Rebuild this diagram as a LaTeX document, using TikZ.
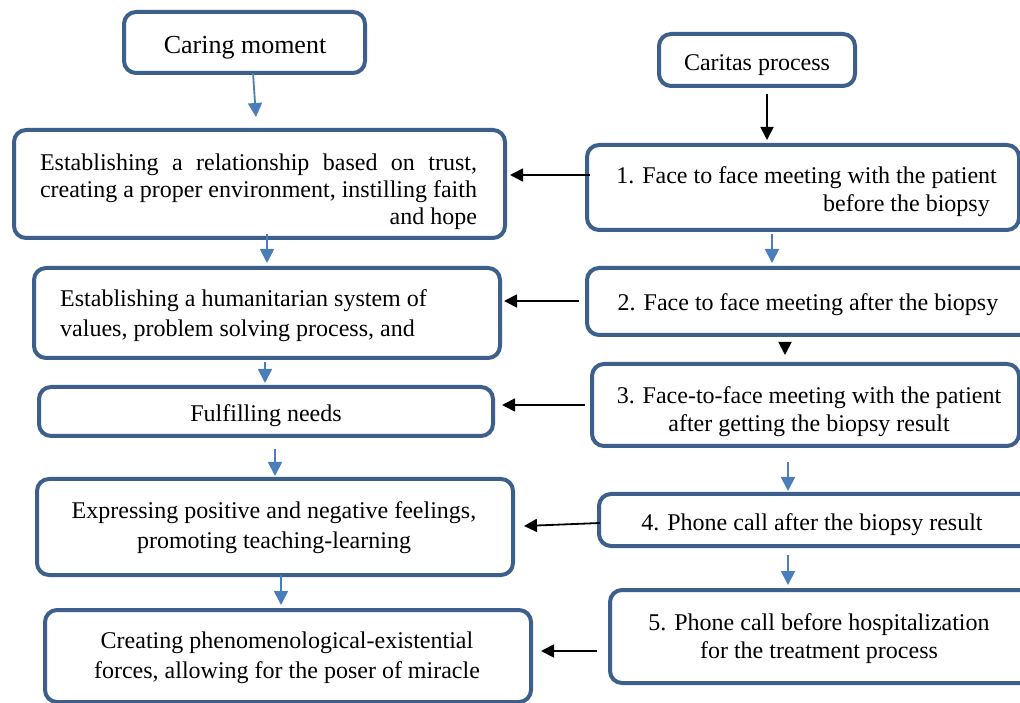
\documentclass[tikz,border=0pt]{standalone}
\usepackage{fontspec}
\setmainfont{Liberation Serif}
\usetikzlibrary{arrows.meta}
\definecolor{boxc}{RGB}{60,95,140}
\definecolor{arrb}{RGB}{74,126,187}
\tikzset{
  box/.style={draw=boxc, line width=4pt, rounded corners=12pt, inner sep=0pt, fill=white},
  txt/.style={font=\fontsize{24}{28}\selectfont, inner sep=0pt, align=center},
  barr/.style={draw=arrb, line width=1.8pt, -{Triangle[length=14pt,width=14pt]}},
  karr/.style={draw=black, line width=1.8pt, -{Triangle[length=13pt,width=13pt]}},
}
\begin{document}
\begin{tikzpicture}[x=1pt,y=1pt]
\useasboundingbox (0,0) rectangle (1020,702);
\clip (0,0) rectangle (1020,702);
% left column boxes
\node[box, minimum width=241pt, minimum height=61pt] (CM) at (244.5,659.5) {};
\node[box, minimum width=491pt, minimum height=108pt] (L1) at (259.5,518) {};
\node[box, minimum width=466pt, minimum height=90pt] (L2) at (267,389) {};
\node[box, minimum width=454pt, minimum height=49pt] (L3) at (266,290.5) {};
\node[box, minimum width=476pt, minimum height=96pt] (L4) at (275,175) {};
\node[box, minimum width=486pt, minimum height=92pt] (L5) at (288,46) {};
% right column boxes
\node[box, minimum width=196pt, minimum height=52pt] (CP) at (757,642) {};
\node[box, minimum width=432pt, minimum height=85pt] (R1) at (803,514.5) {};
\node[box, minimum width=451pt, minimum height=67pt] (R2) at (812.5,400.5) {};
\node[box, minimum width=427pt, minimum height=82pt] (R3) at (805.5,297) {};
\node[box, minimum width=439pt, minimum height=52pt] (R4) at (818.5,182) {};
\node[box, minimum width=428pt, minimum height=93pt] (R5) at (824,65.5) {};
% texts
\node[txt, font=\fontsize{26}{30}\selectfont] (tCM) at (245,654) {Caring moment};
\node[txt, align=left, font=\fontsize{24}{27}\selectfont] (tL1) at (258.5,510.5)
  {\makebox[437pt][s]{Establishing a relationship based on trust,}\\
   \makebox[437pt][s]{creating a proper environment, instilling faith}\\
   \makebox[437pt][r]{and hope}};
\node[txt, align=left, anchor=west, font=\fontsize{24}{30}\selectfont] (tL2) at (60,386)
  {Establishing a humanitarian system of\\values, problem solving process, and};
\node[txt] (tL3) at (266,286) {Fulfilling needs};
\node[txt, font=\fontsize{24}{30}\selectfont] (tL4) at (274,174)
  {Expressing positive and negative feelings,\\promoting teaching-learning};
\node[txt, font=\fontsize{24}{30}\selectfont] (tL5) at (287,44)
  {Creating phenomenological-existential\\forces, allowing for the poser of miracle};
\node[txt] (tCP) at (757,637) {Caritas process};
\node[txt, align=right, anchor=east] (tR1) at (997,510)
  {1. Face to face meeting with the patient\\before the biopsy\hspace*{7pt}};
\node[txt] (tR2) at (808,397) {2. Face to face meeting after the biopsy};
\node[txt] (tR3) at (809,290)
  {3. Face-to-face meeting with the patient\\after getting the biopsy result};
\node[txt] (tR4) at (812,177) {4. Phone call after the biopsy result};
\node[txt] (tR5) at (819,63)
  {5. Phone call before hospitalization\\for the treatment process};
% vertical connectors
\draw[barr] ([xshift=8.5pt,yshift=2pt]CM.south) -- ([xshift=-3.5pt,yshift=11pt]L1.north);
\draw[barr] ([xshift=7.5pt,yshift=6pt]L1.south) -- ([yshift=3pt]L2.north);
\draw[barr] ([xshift=-2pt,yshift=-2pt]L2.south) -- ([xshift=-1pt,yshift=2pt]L3.north);
\draw[barr] ([xshift=9pt,yshift=-11pt]L3.south) -- ([yshift=1pt]L4.north);
\draw[barr] ([xshift=6pt,yshift=2pt]L4.south) -- ([xshift=-7pt,yshift=3pt]L5.north);
\draw[karr] ([xshift=10pt,yshift=-6pt]CP.south) -- ([xshift=-36pt,yshift=3pt]R1.north);
\draw[barr] ([xshift=-31pt,yshift=-2pt]R1.south) -- ([xshift=-40.5pt,yshift=3pt]R2.north);
\draw[karr] ([xshift=-27.5pt,yshift=-5pt]R2.south) -- ([xshift=-20.5pt,yshift=7pt]R3.north);
\draw[barr] ([xshift=-17.5pt,yshift=-14pt]R3.south) -- ([xshift=-30.5pt,yshift=1pt]R4.north);
\draw[barr] ([xshift=-30.5pt,yshift=-7pt]R4.south) -- ([xshift=-36pt,yshift=3pt]R5.north);
% horizontal connectors
\draw[karr] ([xshift=5pt,yshift=12.5pt]R1.west) -- ([xshift=3pt,yshift=9pt]L1.east);
\draw[karr] ([xshift=-6pt,yshift=0.5pt]R2.west) -- ([xshift=2pt,yshift=12pt]L2.east);
\draw[karr] ([xshift=-5pt]R3.west) -- ([xshift=7pt,yshift=6.5pt]L3.east);
\draw[karr] ([xshift=3pt,yshift=-3pt]R4.west) -- ([xshift=9pt,yshift=1pt]L4.east);
\draw[karr] ([xshift=-11pt,yshift=-14.5pt]R5.west) -- ([xshift=8pt,yshift=5pt]L5.east);
\end{tikzpicture}
\end{document}
